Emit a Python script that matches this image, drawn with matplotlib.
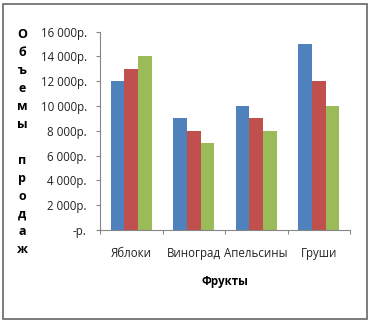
import matplotlib
matplotlib.use("Agg")
import matplotlib.pyplot as plt
from matplotlib.patches import Rectangle

plt.rcParams["font.family"] = ["Open Sans", "DejaVu Sans"]

# Продажи по видам фруктов (три ряда)
fruits = ["Яблоки", "Виноград", "Апельсины", "Груши"]
series_1 = [12000, 9000, 10000, 15000]
series_2 = [13000, 8000, 9000, 12000]
series_3 = [14000, 7000, 8000, 10000]
y_ticks = [0, 2000, 4000, 6000, 8000, 10000, 12000, 14000, 16000]
y_tick_labels = ["-р.", "2 000р.", "4 000р.", "6 000р.", "8 000р.",
                 "10 000р.", "12 000р.", "14 000р.", "16 000р."]
y_title = "Объемы продаж"
x_title = "Фрукты"

colors = ["#4F81BD", "#C0504D", "#9BBB59"]
axis_color = "#868686"

fig = plt.figure(figsize=(3.70, 3.22), dpi=100)
ax = fig.add_axes([100 / 370, 1 - 230 / 322, 250 / 370, (230 - 31.7) / 322])

width = 0.65 / 3
for i, values in enumerate([series_1, series_2, series_3]):
    xs = [k + (i - 1) * width for k in range(len(fruits))]
    ax.bar(xs, values, width=width, color=colors[i], linewidth=0)

ax.set_xlim(-0.5, len(fruits) - 0.5)
ax.set_ylim(0, 16000)

ax.set_yticks(y_ticks)
ax.set_yticklabels(y_tick_labels, fontsize=8.3, color="#222222")
ax.tick_params(axis="y", length=3, width=0.8, color=axis_color, pad=6.5)

# деления по границам категорий, подписи по центрам
ax.set_xticks([k - 0.5 for k in range(len(fruits) + 1)])
ax.set_xticklabels([])
ax.tick_params(axis="x", which="major", length=3, width=0.8, color=axis_color)
ax.set_xticks(range(len(fruits)), minor=True)
ax.set_xticklabels(fruits, minor=True, fontsize=8.3, color="#222222")
ax.tick_params(axis="x", which="minor", length=0, pad=12)

for side in ["top", "right"]:
    ax.spines[side].set_visible(False)
for side in ["left", "bottom"]:
    ax.spines[side].set_color(axis_color)
    ax.spines[side].set_linewidth(0.8)

ax.set_xlabel(x_title, fontsize=8.3, fontweight="bold", labelpad=11)

# подпись оси Y — по одной букве в строке
top_y, step = 1 - 35 / 322, 17.9 / 322
for n, ch in enumerate(y_title):
    fig.text(22 / 370, top_y - n * step, ch, fontsize=9, fontweight="bold",
             ha="center", va="center")

fig.add_artist(Rectangle((2.5 / 370, 3.5 / 322), 364.5 / 370, 315 / 322,
                         transform=fig.transFigure, fill=False,
                         edgecolor="#666666", linewidth=1.2))

fig.savefig("out.png", dpi=100)
